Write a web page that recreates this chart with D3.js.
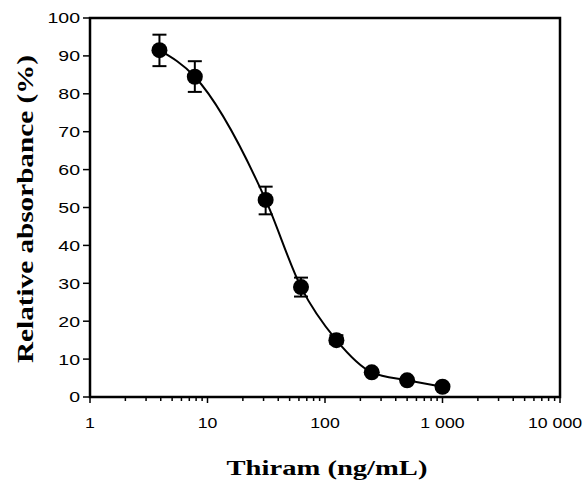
<!DOCTYPE html>
<html>
<head>
<meta charset="utf-8">
<script src="https://cdn.jsdelivr.net/npm/d3@7"></script>
<style>
  body { margin: 0; background: #fff; }
</style>
</head>
<body>
<div class="wrapper"></div>
<script>
const WIDTH = 588
const HEIGHT = 487
const margin = {left: 90, right: 28, top: 18, bottom: 90}

// concentrations (ng/mL) and relative absorbance (%)
var conc = [3.9, 7.8, 31.25, 62.5, 125, 250, 500, 1000]
var absorb = [91.5, 84.5, 52, 29, 15, 6.5, 4.4, 2.7]
var errLow = [87.3, 80.5, 48.2, 26.5, 14, 6, 4, 2.3]
var errHigh = [95.6, 88.6, 55.5, 31.5, 16.3, 7, 5, 3.2]

var xTicks = [1, 10, 100, 1000, 10000]
var xTickLabels = ['1', '10', '100', '1 000', '10 000']
var yTicks = [0, 10, 20, 30, 40, 50, 60, 70, 80, 90, 100]

var points = conc.map((c, i) => ({x: c, y: absorb[i], lo: errLow[i], hi: errHigh[i]}))

// the scanned figure is stretched sideways, so text gets a horizontal scale
var stretch = 1.3
var xStretch = 1.18

var svg = d3.select(".wrapper")
    .append("svg")
    .attr("width", WIDTH)
    .attr("height", HEIGHT)

var x = d3.scaleLog().domain([1, 10000]).range([margin.left, WIDTH - margin.right])
var y = d3.scaleLinear().domain([0, 100]).range([HEIGHT - margin.bottom, margin.top])

var x0 = margin.left, x1 = WIDTH - margin.right
var y0 = HEIGHT - margin.bottom, y1 = margin.top

// frame
svg.append("rect")
    .attr("x", x0).attr("y", y1)
    .attr("width", x1 - x0).attr("height", y0 - y1)
    .attr("fill", "none").attr("stroke", "#000").attr("stroke-width", 2.5)

// minor x ticks (2..9 in each decade)
var minor = []
for (var d = 1; d < 10000; d *= 10) {
  for (var k = 2; k <= 9; k++) minor.push(d * k)
}
svg.append("g").selectAll("line")
    .data(minor)
    .join("line")
    .attr("x1", d => x(d)).attr("x2", d => x(d))
    .attr("y1", y0).attr("y2", y0 + 4)
    .attr("stroke", "#000").attr("stroke-width", 1.5)

// major x ticks
svg.append("g").selectAll("line")
    .data(xTicks)
    .join("line")
    .attr("x1", d => x(d)).attr("x2", d => x(d))
    .attr("y1", y0).attr("y2", y0 + 6)
    .attr("stroke", "#000").attr("stroke-width", 1.5)

svg.append("g").selectAll("text")
    .data(xTicks)
    .join("text")
    .attr("transform", d => `translate(${Math.min(x(d), 555)},428) scale(${xStretch},1)`)
    .attr("text-anchor", "middle")
    .style("font-family", "Liberation Sans, Arial, sans-serif")
    .style("font-size", "15px")
    .text((d, i) => xTickLabels[i])

// y ticks
svg.append("g").selectAll("line")
    .data(yTicks)
    .join("line")
    .attr("x1", x0 - 7).attr("x2", x0)
    .attr("y1", d => y(d)).attr("y2", d => y(d))
    .attr("stroke", "#000").attr("stroke-width", 1.5)

svg.append("g").selectAll("text")
    .data(yTicks)
    .join("text")
    .attr("transform", d => `translate(${x0 - 10},${y(d)}) scale(${stretch},1)`)
    .attr("dy", "0.36em")
    .attr("text-anchor", "end")
    .style("font-family", "Liberation Sans, Arial, sans-serif")
    .style("font-size", "15px")
    .text(d => d)

// axis titles
svg.append("text")
    .attr("transform", `translate(327,475) scale(${stretch},1)`)
    .attr("text-anchor", "middle")
    .style("font-family", "Liberation Serif, Times New Roman, serif")
    .style("font-weight", "bold")
    .style("font-size", "22px")
    .text("Thiram (ng/mL)")

svg.append("text")
    .attr("transform", "translate(33,209) rotate(-90) scale(1.27,1)")
    .attr("text-anchor", "middle")
    .style("font-family", "Liberation Serif, Times New Roman, serif")
    .style("font-weight", "bold")
    .style("font-size", "23px")
    .text("Relative absorbance (%)")

// fitted curve through points
var line = d3.line()
    .x(d => x(d.x))
    .y(d => y(d.y))
    .curve(d3.curveMonotoneX)

svg.append("path")
    .datum(points)
    .attr("d", line)
    .attr("fill", "none")
    .attr("stroke", "#000")
    .attr("stroke-width", 2)

// error bars
var eb = svg.append("g")
eb.selectAll("line.v")
    .data(points)
    .join("line")
    .attr("class", "v")
    .attr("x1", d => x(d.x)).attr("x2", d => x(d.x))
    .attr("y1", d => y(d.lo)).attr("y2", d => y(d.hi))
    .attr("stroke", "#000").attr("stroke-width", 2)

eb.selectAll("line.cap")
    .data(points.flatMap(d => [{x: d.x, v: d.lo}, {x: d.x, v: d.hi}]))
    .join("line")
    .attr("class", "cap")
    .attr("x1", d => x(d.x) - 7).attr("x2", d => x(d.x) + 7)
    .attr("y1", d => y(d.v)).attr("y2", d => y(d.v))
    .attr("stroke", "#000").attr("stroke-width", 2)

// markers
svg.append("g").selectAll("circle")
    .data(points)
    .join("circle")
    .attr("cx", d => x(d.x))
    .attr("cy", d => y(d.y))
    .attr("r", 8)
    .attr("fill", "#000")
</script>
</body>
</html>
